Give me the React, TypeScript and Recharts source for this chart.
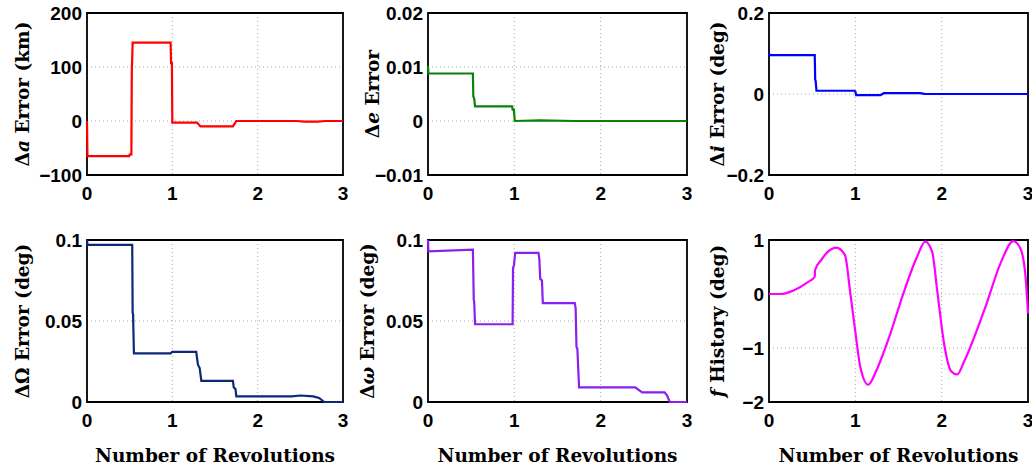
import React from 'react';
import { LineChart, Line, XAxis, YAxis, CartesianGrid, ReferenceArea } from 'recharts';

// revolutions (x) and error values (y) for each panel
const revTicks = [0, 1, 2, 3];

const aRevs = [0, 0.005, 0.495, 0.5, 0.52, 0.525, 0.535, 0.98, 0.985, 0.995, 1.0, 1.29, 1.33, 1.71, 1.75, 2.45, 2.55, 2.7, 2.8, 3.0];
const aErr = [0, -65, -65, -62, -62, 92, 145, 145, 107, 107, -3, -3, -10, -10, 0, 0, -1, -1, 0, 0];
const aTicks = [-100, 0, 100, 200];
const aTickLabels = ['\u2212100', '0', '100', '200'];

const eRevs = [0, 0.005, 0.52, 0.525, 0.535, 0.545, 0.975, 0.98, 0.995, 1.005, 1.3, 1.7, 3.0];
const eErr = [0.0102, 0.0088, 0.0088, 0.0045, 0.0042, 0.0027, 0.0027, 0.0021, 0.0021, 0.0, 0.0001, 0.0, 0.0];
const eTicks = [-0.01, 0, 0.01, 0.02];
const eTickLabels = ['\u22120.01', '0', '0.01', '0.02'];

const iRevs = [0, 0.005, 0.53, 0.535, 0.54, 0.55, 0.99, 1.0, 1.01, 1.29, 1.33, 1.75, 1.8, 3.0];
const iErr = [0.102, 0.096, 0.096, 0.035, 0.033, 0.008, 0.008, 0.006, -0.003, -0.003, 0.002, 0.002, 0.0005, 0];
const iTicks = [-0.2, 0, 0.2];
const iTickLabels = ['\u22120.2', '0', '0.2'];

const raanRevs = [0, 0.005, 0.53, 0.535, 0.54, 0.55, 0.98, 1.0, 1.28, 1.3, 1.32, 1.34, 1.71, 1.72, 1.74, 1.75, 2.4, 2.5, 2.65, 2.72, 2.78, 3.0];
const raanErr = [0.1, 0.097, 0.097, 0.055, 0.054, 0.03, 0.03, 0.031, 0.031, 0.023, 0.021, 0.013, 0.013, 0.009, 0.008, 0.0035, 0.0035, 0.004, 0.0035, 0.0025, 0, 0];
const raanTicks = [0, 0.05, 0.1];
const raanTickLabels = ['0', '0.05', '0.1'];

const argpRevs = [0, 0.005, 0.52, 0.53, 0.535, 0.545, 0.98, 0.985, 0.995, 1.01, 1.28, 1.29, 1.3, 1.32, 1.33, 1.7, 1.71, 1.72, 1.73, 1.75, 2.4, 2.48, 2.74, 2.77, 2.8, 3.0];
const argpErr = [0.1, 0.093, 0.094, 0.063, 0.062, 0.048, 0.048, 0.083, 0.084, 0.092, 0.092, 0.088, 0.076, 0.075, 0.061, 0.061, 0.058, 0.034, 0.033, 0.009, 0.009, 0.006, 0.006, 0.004, 0, 0];
const argpTicks = [0, 0.05, 0.1];
const argpTickLabels = ['0', '0.05', '0.1'];

const fRevs = [0, 0.13, 0.29, 0.45, 0.53, 0.535, 0.6, 0.68, 0.78, 0.88, 0.94, 1.0, 1.06, 1.15, 1.24, 1.4, 1.55, 1.71, 1.81, 1.89, 1.95, 2.03, 2.11, 2.18, 2.26, 2.5, 2.69, 2.83, 2.91, 2.97, 3.0];
const fHist = [0, 0, 0.07, 0.22, 0.32, 0.45, 0.62, 0.78, 0.86, 0.72, 0.04, -0.7, -1.37, -1.68, -1.43, -0.76, -0.02, 0.67, 0.97, 0.78, 0.04, -0.94, -1.43, -1.49, -1.25, -0.27, 0.6, 0.98, 0.85, 0.35, -0.36];
const fTicks = [-2, -1, 0, 1];
const fTickLabels = ['\u22122', '\u22121', '0', '1'];

const zip = (xs: number[], ys: number[]) => xs.map((x, i) => ({ x, y: ys[i] }));

const tickStyle = { fontFamily: '"Liberation Sans", Arial, sans-serif', fontWeight: 700, fontSize: 19, fill: '#000' };
const titleFont = '"DejaVu Serif", serif';

interface PanelProps {
  left: number;
  top: number;
  plotW: number;
  plotH: number;
  xs: number[];
  ys: number[];
  ticks: number[];
  tickLabels: string[];
  color: string;
  prefix: string;
  sym: string;
  symItalic: boolean;
  rest: string;
  labelDx: number;
  curve?: 'linear' | 'monotone';
  xTitle?: boolean;
}

const Panel: React.FC<PanelProps> = (p) => {
  const axisH = p.xTitle ? 70 : 34;
  const data = zip(p.xs, p.ys);
  const domain: [number, number] = [p.ticks[0], p.ticks[p.ticks.length - 1]];
  const lx = 80 + p.labelDx;
  const ly = 10 + p.plotH / 2;

  const yTitle = () => (
    <text
      x={lx}
      y={ly}
      transform={`rotate(-90 ${lx} ${ly})`}
      textAnchor="middle"
      dominantBaseline="central"
      fontFamily={titleFont}
      fontWeight={700}
      fontSize={18.5}
      fill="#000"
    >
      {p.prefix && <tspan>{p.prefix}</tspan>}
      <tspan fontStyle={p.symItalic ? 'italic' : 'normal'}>{p.sym}</tspan>
      <tspan>{p.rest}</tspan>
    </text>
  );

  const xTitle = () => (
    <text
      x={80 + p.plotW / 2}
      y={10 + p.plotH + 53}
      textAnchor="middle"
      dominantBaseline="central"
      fontFamily={titleFont}
      fontWeight={700}
      fontSize={18.5}
      fill="#000"
    >
      Number of Revolutions
    </text>
  );

  return (
    <div style={{ position: 'absolute', left: p.left - 80, top: p.top - 10 }}>
      <LineChart
        width={p.plotW + 86}
        height={p.plotH + 10 + axisH}
        data={data}
        margin={{ top: 10, right: 6, bottom: 0, left: 0 }}
      >
        <CartesianGrid stroke="#a8a8a8" strokeDasharray="1 3" />
        <XAxis
          type="number"
          dataKey="x"
          domain={[0, 3]}
          ticks={revTicks}
          interval={0}
          height={axisH}
          tickLine={false}
          axisLine={false}
          tickSize={0}
          tickMargin={12}
          tick={tickStyle}
          label={p.xTitle ? { content: xTitle } : undefined}
        />
        <YAxis
          type="number"
          domain={domain}
          ticks={p.ticks}
          interval={0}
          width={80}
          tickLine={false}
          axisLine={false}
          tickSize={0}
          tickMargin={5}
          tick={tickStyle}
          tickFormatter={(v: number) => p.tickLabels[p.ticks.indexOf(v)] ?? String(v)}
          label={{ content: yTitle }}
        />
        <ReferenceArea
          x1={0}
          x2={3}
          y1={domain[0]}
          y2={domain[1]}
          fill="none"
          stroke="#000"
          strokeWidth={1.8}
          ifOverflow="visible"
        />
        <Line
          type={p.curve ?? 'linear'}
          dataKey="y"
          stroke={p.color}
          strokeWidth={2.2}
          dot={false}
          isAnimationActive={false}
        />
      </LineChart>
    </div>
  );
};

export default function App() {
  return (
    <div style={{ position: 'absolute', left: 0, top: 0, width: 1032, height: 467, background: '#fff', overflow: 'hidden' }}>
      <Panel left={87} top={13} plotW={256} plotH={162} xs={aRevs} ys={aErr} ticks={aTicks} tickLabels={aTickLabels}
        color="#ff0000" prefix={'\u0394'} sym="a" symItalic rest=" Error (km)" labelDx={-65} />
      <Panel left={428} top={13} plotW={259} plotH={162} xs={eRevs} ys={eErr} ticks={eTicks} tickLabels={eTickLabels}
        color="#0a820a" prefix={'\u0394'} sym="e" symItalic rest=" Error" labelDx={-56} />
      <Panel left={769} top={13} plotW={259} plotH={162} xs={iRevs} ys={iErr} ticks={iTicks} tickLabels={iTickLabels}
        color="#0000ff" prefix={'\u0394'} sym="i" symItalic rest=" Error (deg)" labelDx={-52} />
      <Panel left={87} top={240} plotW={256} plotH={162} xs={raanRevs} ys={raanErr} ticks={raanTicks} tickLabels={raanTickLabels}
        color="#0c2878" prefix={'\u0394'} sym={'\u03A9'} symItalic={false} rest=" Error (deg)" labelDx={-65} xTitle />
      <Panel left={428} top={240} plotW={259} plotH={162} xs={argpRevs} ys={argpErr} ticks={argpTicks} tickLabels={argpTickLabels}
        color="#8b1ef0" prefix={'\u0394'} sym={'\u03C9'} symItalic rest=" Error (deg)" labelDx={-61} xTitle />
      <Panel left={769} top={240} plotW={259} plotH={162} xs={fRevs} ys={fHist} ticks={fTicks} tickLabels={fTickLabels}
        color="#ff00ff" prefix="" sym="f" symItalic rest=" History (deg)" labelDx={-52} curve="monotone" xTitle />
    </div>
  );
}
